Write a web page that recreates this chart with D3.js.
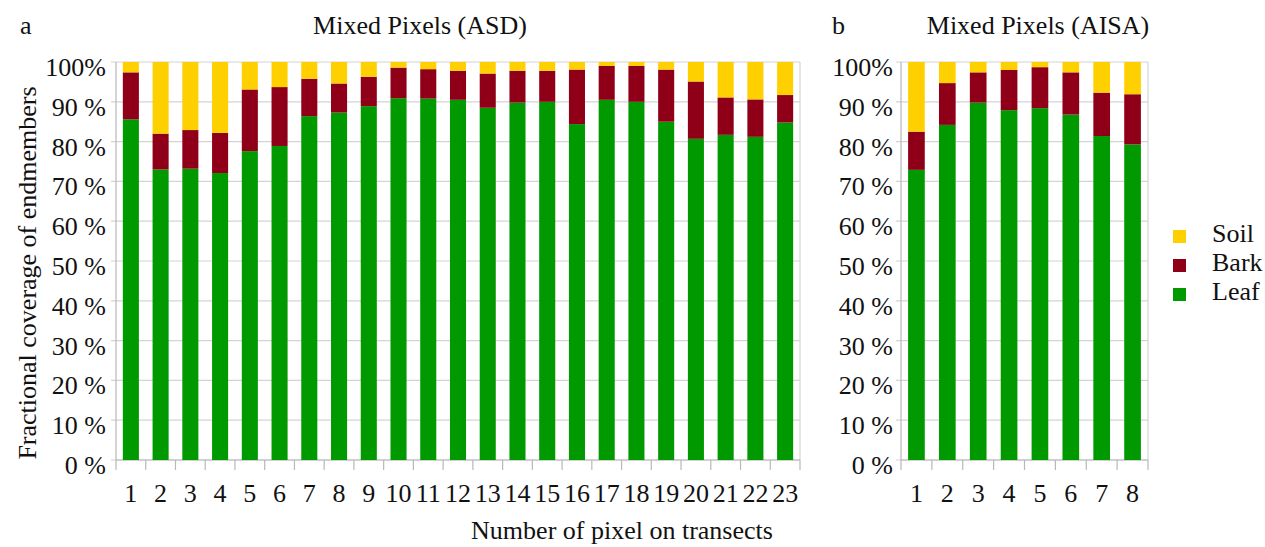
<!DOCTYPE html>
<html>
<head>
<meta charset="utf-8">
<script src="https://cdnjs.cloudflare.com/ajax/libs/d3/7.8.5/d3.min.js"></script>
<style>
  html, body { margin: 0; padding: 0; background: #ffffff; }
  svg { display: block; }
  text { font-family: "Liberation Serif", "Times New Roman", serif; fill: #111; }
</style>
</head>
<body>
<svg id="chart" width="1265" height="547"></svg>
<script>
// Fractional coverage (%) of the three endmembers per mixed pixel
const asdPixels = ["1","2","3","4","5","6","7","8","9","10","11","12","13","14","15","16","17","18","19","20","21","22","23"];
const asdLeaf = [85.6, 73.0, 73.2, 72.1, 77.6, 78.9, 86.4, 87.3, 88.9, 90.9, 90.8, 90.5, 88.5, 89.8, 90.0, 84.4, 90.5, 90.0, 85.0, 80.7, 81.7, 81.2, 84.8];
const asdBark = [11.8, 9.0, 9.7, 10.1, 15.5, 14.8, 9.4, 7.3, 7.4, 7.7, 7.4, 7.3, 8.6, 8.0, 7.8, 13.7, 8.5, 9.0, 13.1, 14.4, 9.4, 9.4, 6.9];
const asdSoil = [2.6, 18.0, 17.1, 17.8, 6.9, 6.3, 4.2, 5.4, 3.7, 1.4, 1.8, 2.2, 2.9, 2.2, 2.2, 1.9, 1.0, 1.0, 1.9, 4.9, 8.9, 9.4, 8.3];

const aisaPixels = ["1","2","3","4","5","6","7","8"];
const aisaLeaf = [72.9, 84.2, 89.8, 87.9, 88.4, 86.8, 81.4, 79.3];
const aisaBark = [9.6, 10.5, 7.6, 10.1, 10.3, 10.6, 10.9, 12.6];
const aisaSoil = [17.5, 5.3, 2.6, 2.0, 1.3, 2.6, 7.7, 8.1];

const yTickValues = [0, 10, 20, 30, 40, 50, 60, 70, 80, 90, 100];
const yTickLabels = ["0 %", "10 %", "20 %", "30 %", "40 %", "50 %", "60 %", "70 %", "80 %", "90 %", "100%"];

const seriesNames = ["Leaf", "Bark", "Soil"];          // stacking order, bottom to top
const legendOrder = ["Soil", "Bark", "Leaf"];
const colors = { Leaf: "#009900", Bark: "#8f0018", Soil: "#ffd000" };

const svg = d3.select("#chart");
const FONT = 26;
const gridColor = "#d4d4d4";
const axisColor = "#b8b8b8";

function drawPanel(opt) {
  const { x0, x1, yTop, yBottom, pixels, leaf, bark, soil, letter, title, titleX, labelX } = opt;
  const rows = pixels.map((p, i) => ({ pixel: p, Leaf: leaf[i], Bark: bark[i], Soil: soil[i] }));
  const x = d3.scaleBand().domain(pixels).range([x0, x1]).paddingInner(0.46).paddingOuter(0.23);
  const y = d3.scaleLinear().domain([0, 100]).range([yBottom, yTop]);
  const g = svg.append("g");

  // horizontal gridlines with short outward ticks
  g.selectAll("line.grid").data(yTickValues).join("line")
    .attr("x1", x0 - 5).attr("x2", x1)
    .attr("y1", d => y(d)).attr("y2", d => y(d))
    .attr("stroke", gridColor).attr("stroke-width", 1.2);

  // axis frame: left axis and right border
  g.append("line").attr("x1", x0).attr("x2", x0).attr("y1", yTop).attr("y2", yBottom)
    .attr("stroke", axisColor).attr("stroke-width", 1.2);
  g.append("line").attr("x1", x1).attr("x2", x1).attr("y1", yTop).attr("y2", yBottom)
    .attr("stroke", gridColor).attr("stroke-width", 1.2);
  g.append("line").attr("x1", x0).attr("x2", x1).attr("y1", yBottom).attr("y2", yBottom)
    .attr("stroke", axisColor).attr("stroke-width", 1.2);

  // category boundary ticks below the baseline
  const step = x.step();
  const bounds = d3.range(pixels.length + 1).map(i => x0 + i * step);
  g.selectAll("line.xtick").data(bounds).join("line")
    .attr("x1", d => d).attr("x2", d => d)
    .attr("y1", yBottom).attr("y2", yBottom + 10)
    .attr("stroke", axisColor).attr("stroke-width", 1.2);

  // stacked bars
  const stack = d3.stack().keys(seriesNames)(rows);
  g.selectAll("g.series").data(stack).join("g")
    .attr("fill", d => colors[d.key])
    .selectAll("rect").data(d => d).join("rect")
      .attr("x", d => x(d.data.pixel))
      .attr("width", x.bandwidth())
      .attr("y", d => y(d[1]))
      .attr("height", d => y(d[0]) - y(d[1]));

  // y tick labels
  g.selectAll("text.ylab").data(yTickValues).join("text")
    .attr("x", labelX).attr("y", d => y(d) + 14)
    .attr("text-anchor", "end").attr("font-size", FONT)
    .text((d, i) => yTickLabels[i]);

  // x tick labels
  g.selectAll("text.xlab").data(pixels).join("text")
    .attr("x", d => x(d) + x.bandwidth() / 2).attr("y", yBottom + 42)
    .attr("text-anchor", "middle").attr("font-size", FONT)
    .text(d => d);

  // panel letter and title
  g.append("text").attr("x", letter.x).attr("y", 34).attr("font-size", FONT).text(letter.text);
  g.append("text").attr("x", titleX).attr("y", 34).attr("text-anchor", "middle")
    .attr("font-size", FONT).text(title);
}

drawPanel({
  x0: 116, x1: 800, yTop: 62, yBottom: 460,
  pixels: asdPixels, leaf: asdLeaf, bark: asdBark, soil: asdSoil,
  letter: { x: 20, text: "a" }, title: "Mixed Pixels (ASD)", titleX: 420, labelX: 106
});

drawPanel({
  x0: 901, x1: 1148, yTop: 62, yBottom: 460,
  pixels: aisaPixels, leaf: aisaLeaf, bark: aisaBark, soil: aisaSoil,
  letter: { x: 832, text: "b" }, title: "Mixed Pixels (AISA)", titleX: 1038, labelX: 893
});

// axis titles
svg.append("text")
  .attr("transform", "translate(36,273) rotate(-90)")
  .attr("text-anchor", "middle").attr("font-size", FONT)
  .text("Fractional coverage of endmembers");

svg.append("text")
  .attr("x", 622).attr("y", 539)
  .attr("text-anchor", "middle").attr("font-size", FONT)
  .text("Number of pixel on transects");

// legend
const legend = svg.append("g").attr("transform", "translate(1173,230)");
legend.selectAll("g").data(legendOrder).join("g")
  .attr("transform", (d, i) => `translate(0,${i * 29})`)
  .each(function (d) {
    const item = d3.select(this);
    item.append("rect").attr("width", 13).attr("height", 13).attr("fill", colors[d]);
    item.append("text").attr("x", 39).attr("y", 12).attr("font-size", FONT).text(d);
  });
</script>
</body>
</html>
